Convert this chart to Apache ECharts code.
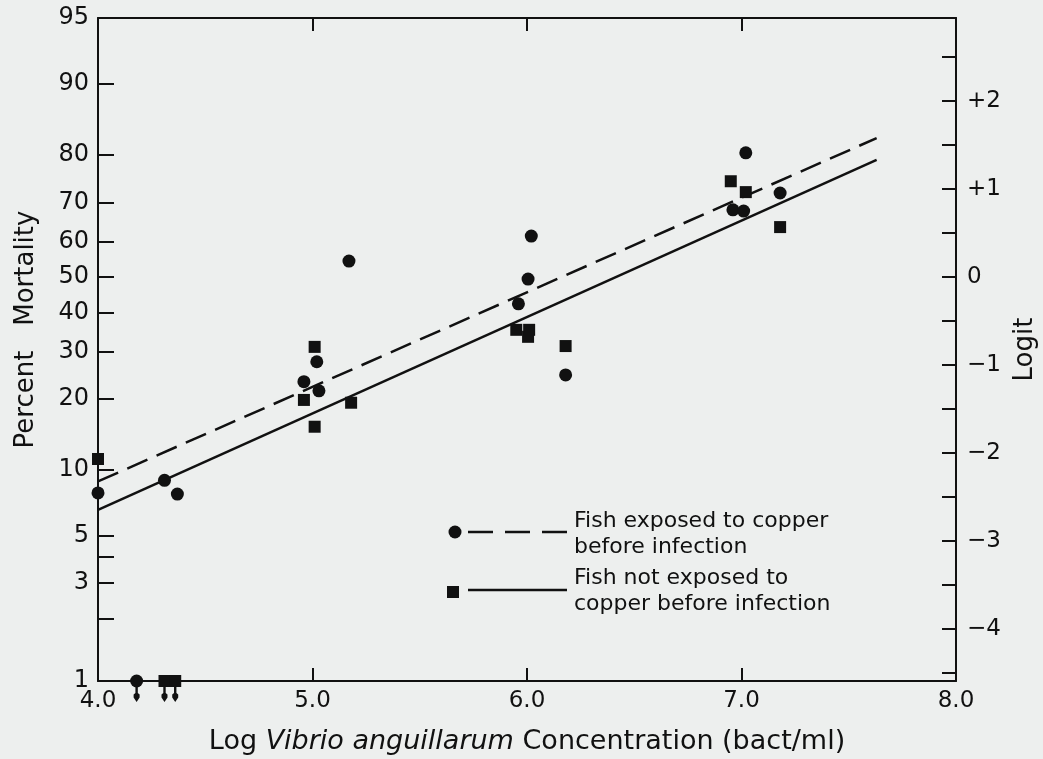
<!DOCTYPE html>
<html>
<head>
<meta charset="utf-8">
<script src="https://cdn.jsdelivr.net/npm/echarts@6/dist/echarts.min.js"></script>
<style>
  html, body { margin: 0; padding: 0; background: #edefee; }
  #chart { width: 1043px; height: 759px; }
</style>
</head>
<body>
<div id="chart"></div>
<script>
// fish exposed to copper (circles, dashed fit)
const copperX   = [4.00, 4.18, 4.31, 4.37, 4.96, 5.02, 5.03, 5.17, 5.96, 6.005, 6.02, 6.18, 6.96, 7.01, 7.02, 7.18];
const copperPct = [7.9, 1, 9.0, 7.8, 23.3, 27.6, 21.5, 54.5, 42.4, 49.4, 61.4, 24.7, 68.2, 67.9, 80.4, 72.2];
// fish not exposed (squares, solid fit)
const controlX   = [4.00, 4.31, 4.36, 4.96, 5.01, 5.01, 5.18, 5.95, 6.01, 6.005, 6.18, 6.95, 7.02, 7.18];
const controlPct = [11.2, 1, 1, 19.8, 31.1, 15.4, 19.3, 35.4, 35.4, 33.6, 31.3, 74.8, 72.4, 63.8];
// fitted lines, end points
const fitX = [4.0, 7.63];
const copperFitPct  = [8.9, 82.9];
const controlFitPct = [6.6, 79.1];
// axis ticks
const pctTicks  = [1, 2, 3, 4, 5, 10, 20, 30, 40, 50, 60, 70, 80, 90, 95];
const pctLabels = [1, 3, 5, 10, 20, 30, 40, 50, 60, 70, 80, 90, 95];
const logitTicks  = [-4.5, -4, -3.5, -3, -2.5, -2, -1.5, -1, -0.5, 0, 0.5, 1, 1.5, 2, 2.5];
const logitLabels = [-4, -3, -2, -1, 0, 1, 2];

const logit = p => Math.log(p / (100 - p));
const pct = l => 100 / (1 + Math.exp(-l));
const yMin = logit(1), yMax = logit(95);

const font = 'DejaVu Sans';
const pts = (xs, ps) => xs.map((x, i) => [x, logit(ps[i])]);
const below = (xs, ps) => xs.filter((x, i) => ps[i] <= 1).map(x => [x, logit(1)]);
const arrowPath = 'path://M-1,0 L1,0 L1,11 L2.5,12.5 L2.5,15.5 L0,20 L-2.5,15.5 L-2.5,12.5 L-1,11 Z';

const chart = echarts.init(document.getElementById('chart'));
chart.setOption({
  backgroundColor: '#edefee',
  animation: false,
  textStyle: { fontFamily: font, color: '#111' },
  grid: { left: 98, right: 87, top: 18, bottom: 78, containLabel: false, outerBoundsMode: 'none' },
  xAxis: [{
    type: 'value', min: 4, max: 8, interval: 1,
    name: '{n|Log }{i|Vibrio anguillarum}{n| Concentration (bact/ml)}',
    nameLocation: 'middle', nameGap: 47,
    nameTextStyle: {
      rich: {
        n: { fontFamily: font, fontSize: 27, color: '#111' },
        i: { fontFamily: font, fontSize: 27, fontStyle: 'italic', color: '#111' }
      }
    },
    axisLine: { onZero: false, lineStyle: { color: '#111', width: 2 } },
    axisTick: { inside: true, length: 13, lineStyle: { color: '#111', width: 2 } },
    axisLabel: { formatter: v => v.toFixed(1), fontSize: 23, color: '#111', margin: 9 },
    splitLine: { show: false }
  }, {
    type: 'value', min: 4, max: 8, interval: 1, position: 'top',
    axisLine: { show: true, onZero: false, lineStyle: { color: '#111', width: 2 } },
    axisTick: { inside: true, length: 13, lineStyle: { color: '#111', width: 2 } },
    axisLabel: { show: false },
    splitLine: { show: false }
  }],
  yAxis: [{
    type: 'value', min: yMin, max: yMax,
    name: 'Percent   Mortality', nameLocation: 'middle', nameGap: 59, nameRotate: 90,
    nameTextStyle: { fontSize: 26, color: '#111', padding: [0, 0, 0, 40] },
    axisLine: { show: true, onZero: false, lineStyle: { color: '#111', width: 2 } },
    axisTick: { inside: true, length: 16, customValues: pctTicks.map(logit), lineStyle: { color: '#111', width: 2 } },
    axisLabel: {
      customValues: pctLabels.map(logit), fontSize: 24, color: '#111', margin: 9,
      formatter: v => String(Math.round(pct(v)))
    },
    splitLine: { show: false }
  }, {
    type: 'value', min: yMin, max: yMax, position: 'right',
    name: 'Logit', nameLocation: 'middle', nameGap: 56, nameRotate: 90,
    nameTextStyle: { fontSize: 26, color: '#111' },
    axisLine: { show: true, onZero: false, lineStyle: { color: '#111', width: 2 } },
    axisTick: { inside: true, length: 14, customValues: logitTicks, lineStyle: { color: '#111', width: 2 } },
    axisLabel: {
      customValues: logitLabels, fontSize: 23, color: '#111', margin: 11,
      formatter: v => v > 0 ? '+' + v : (v < 0 ? '\u2212' + (-v) : '0')
    },
    splitLine: { show: false }
  }],
  series: [{
    name: 'copper fit', type: 'line', symbol: 'none',
    data: pts(fitX, copperFitPct),
    lineStyle: { color: '#111', width: 2.5, type: [22, 10] }
  }, {
    name: 'control fit', type: 'line', symbol: 'none',
    data: pts(fitX, controlFitPct),
    lineStyle: { color: '#111', width: 2.5 }
  }, {
    name: 'copper', type: 'scatter', symbol: 'circle', symbolSize: 13,
    data: pts(copperX, copperPct),
    itemStyle: { color: '#111', opacity: 1 }, z: 5
  }, {
    name: 'control', type: 'scatter', symbol: 'rect', symbolSize: 12,
    data: pts(controlX, controlPct),
    itemStyle: { color: '#111', opacity: 1 }, z: 5
  }, {
    name: 'below', type: 'scatter', symbol: arrowPath, symbolSize: [6, 20],
    symbolOffset: [0, 11],
    data: below(copperX, copperPct).concat(below(controlX, controlPct)),
    itemStyle: { color: '#111', opacity: 1 }, z: 4
  }],
  graphic: [
    { type: 'circle', shape: { cx: 455, cy: 532, r: 6.5 }, style: { fill: '#111' } },
    { type: 'line', shape: { x1: 468, y1: 532, x2: 567, y2: 532 }, style: { stroke: '#111', lineWidth: 2.5, lineDash: [25, 12] } },
    { type: 'rect', shape: { x: 447, y: 586, width: 12, height: 12 }, style: { fill: '#111' } },
    { type: 'line', shape: { x1: 468, y1: 590, x2: 567, y2: 590 }, style: { stroke: '#111', lineWidth: 2.5 } },
    { type: 'text', x: 574, y: 508, style: { text: 'Fish exposed to copper\nbefore infection', font: '22px "DejaVu Sans"', fill: '#111', lineHeight: 26 } },
    { type: 'text', x: 574, y: 565, style: { text: 'Fish not exposed to\ncopper before infection', font: '22px "DejaVu Sans"', fill: '#111', lineHeight: 26 } }
  ]
});
</script>
</body>
</html>
